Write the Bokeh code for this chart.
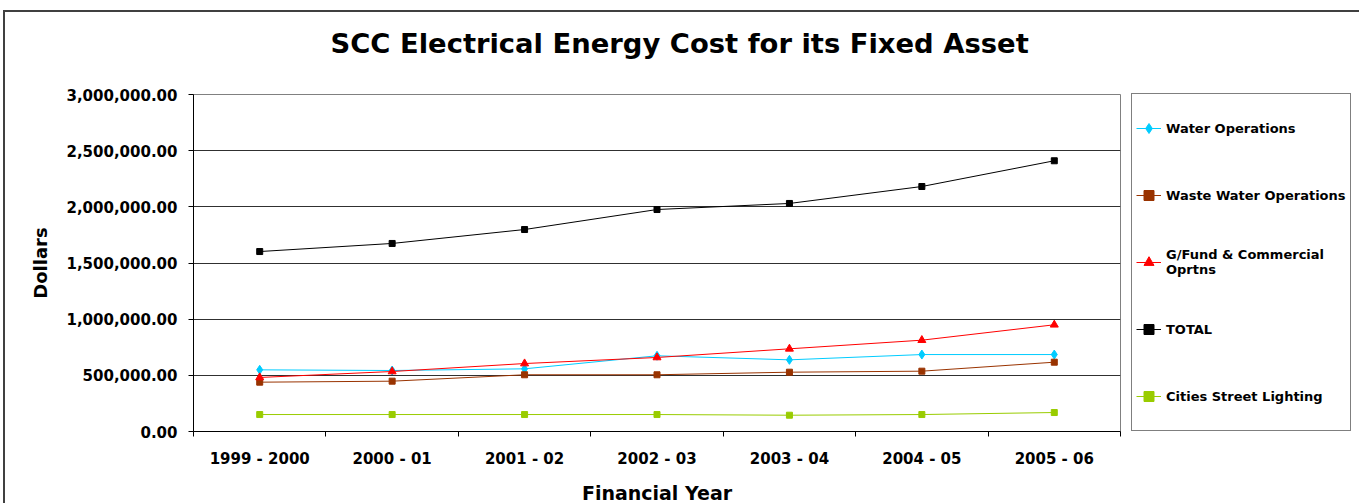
from bokeh.plotting import figure
from bokeh.layouts import column
from bokeh.models import Range1d, FixedTicker, NumeralTickFormatter, Legend, LegendItem, Title
from bokeh.embed import file_html
from bokeh.resources import INLINE

# Financial years and electricity cost per operating area (dollars)
years = ["1999 - 2000", "2000 - 01", "2001 - 02", "2002 - 03", "2003 - 04", "2004 - 05", "2005 - 06"]
water_ops = [549000, 543000, 558000, 674000, 638000, 685000, 685000]
waste_water_ops = [439000, 448000, 505000, 505000, 528000, 537000, 617000]
gfund_commercial = [481000, 534000, 605000, 659000, 736000, 813000, 950000]
total = [1602000, 1674000, 1798000, 1976000, 2030000, 2181000, 2410000]
street_lighting = [151000, 151000, 151000, 151000, 145000, 151000, 169000]
y_ticks = [0, 500000, 1000000, 1500000, 2000000, 2500000, 3000000]

FONT = "DejaVu Sans"

# category centres sit half-way between the year boundaries
xs = [i + 0.5 for i in range(len(years))]

p = figure(frame_width=927, frame_height=337, output_backend="svg", toolbar_location=None,
           title=None,
           x_range=Range1d(0, len(years)), y_range=Range1d(0, 3000000),
           min_border_left=188, min_border_right=200, min_border_top=82, min_border_bottom=72)
p.background_fill_color = "white"
p.border_fill_color = "white"
p.outline_line_color = "#808080"
p.outline_line_width = 1

# blank band next to the plot area, then the chart title above it
p.add_layout(Title(text=" ", text_font_size="10px", standoff=18), "above")
p.add_layout(Title(text="SCC Electrical Energy Cost for its Fixed Asset", align="left", offset=137,
                   text_font=FONT, text_font_style="bold", text_font_size="27.4px",
                   text_color="black", standoff=10), "above")

# x axis: labels at the centres, tick marks on the boundaries
p.xaxis.ticker = FixedTicker(ticks=xs, minor_ticks=list(range(len(years) + 1)))
p.xaxis.major_label_overrides = {x: yr for x, yr in zip(xs, years)}
p.xaxis.major_tick_line_color = None
p.xaxis.major_tick_out = 5
p.xaxis.major_tick_in = 0
p.xaxis.minor_tick_line_color = "black"
p.xaxis.minor_tick_out = 5
p.xaxis.minor_tick_in = 0
p.xaxis.major_label_standoff = 13
p.xaxis.axis_label = "Financial Year"
p.xaxis.axis_label_standoff = 11
p.xgrid.grid_line_color = None

p.yaxis.ticker = FixedTicker(ticks=y_ticks)
p.yaxis.formatter = NumeralTickFormatter(format="0,0.00")
p.yaxis.major_tick_out = 5
p.yaxis.major_tick_in = 0
p.yaxis.major_tick_line_color = "black"
p.yaxis.minor_tick_line_color = None
p.yaxis.major_label_standoff = 11
p.yaxis.axis_label = "Dollars"
p.yaxis.axis_label_standoff = 12
p.ygrid.grid_line_color = "#303030"
p.ygrid.grid_line_width = 1

for ax in (p.xaxis, p.yaxis):
    ax.axis_line_color = "black"
    ax.axis_line_width = 1
    ax.major_label_text_font = FONT
    ax.major_label_text_font_style = "bold"
    ax.major_label_text_font_size = "15px"
    ax.major_label_text_color = "black"
    ax.axis_label_text_font = FONT
    ax.axis_label_text_font_style = "bold"
    ax.axis_label_text_color = "black"
p.xaxis.axis_label_text_font_size = "19px"
p.yaxis.axis_label_text_font_size = "18px"

# series
r_water_l = p.line(xs, water_ops, line_color="#00CCFF", line_width=1)
r_water_m = p.scatter(xs, water_ops, marker="diamond", size=9, color="#00CCFF")
r_waste_l = p.line(xs, waste_water_ops, line_color="#993300", line_width=1)
r_waste_m = p.scatter(xs, waste_water_ops, marker="square", size=6, color="#993300")
r_gf_l = p.line(xs, gfund_commercial, line_color="#FF0000", line_width=1)
r_gf_m = p.scatter(xs, gfund_commercial, marker="triangle", size=8, color="#FF0000")
r_tot_l = p.line(xs, total, line_color="black", line_width=1)
r_tot_m = p.scatter(xs, total, marker="square", size=6, color="black")
r_sl_l = p.line(xs, street_lighting, line_color="#99CC00", line_width=1)
r_sl_m = p.scatter(xs, street_lighting, marker="square", size=6, color="#99CC00")

legend = Legend(items=[
    LegendItem(label="Water Operations", renderers=[r_water_l, r_water_m]),
    LegendItem(label="Waste Water Operations", renderers=[r_waste_l, r_waste_m]),
    LegendItem(label="G/Fund & Commercial\nOprtns", renderers=[r_gf_l, r_gf_m]),
    LegendItem(label="TOTAL", renderers=[r_tot_l, r_tot_m]),
    LegendItem(label="Cities Street Lighting", renderers=[r_sl_l, r_sl_m]),
], location=(11, 0))
legend.margin = 0
legend.padding = 4
legend.spacing = 7
legend.glyph_width = 25
legend.glyph_height = 60
legend.label_height = 60
legend.label_standoff = 5
legend.border_line_color = "black"
legend.border_line_width = 1
legend.background_fill_color = "white"
legend.label_text_font = FONT
legend.label_text_font_style = "bold"
legend.label_text_font_size = "13px"
legend.label_text_color = "black"
p.add_layout(legend, "right")

# outer chart frame around the whole chart
page = column(p, styles={"margin-left": "3px", "margin-top": "10px",
                         "border-left": "2px solid #404040", "border-top": "2px solid #404040",
                         "border-right": "2px solid #404040"})

open("out.html", "w").write(file_html(page, INLINE))
